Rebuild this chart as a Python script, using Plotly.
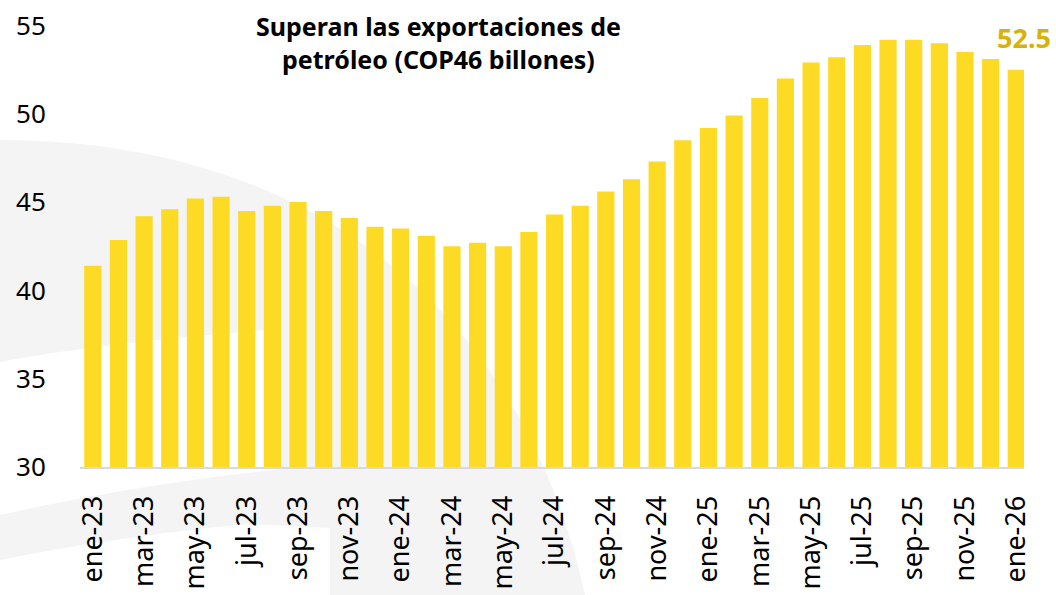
import plotly.graph_objects as go

months = ["ene", "feb", "mar", "abr", "may", "jun", "jul", "ago", "sep", "oct", "nov", "dic"]
categories = [f"{m}-{y}" for y in ["23", "24", "25"] for m in months] + ["ene-26"]
values = [41.4, 42.85, 44.2, 44.6, 45.2, 45.3, 44.5, 44.8, 45.0, 44.5, 44.1, 43.6,
          43.5, 43.1, 42.5, 42.7, 42.5, 43.3, 44.3, 44.8, 45.6, 46.3, 47.3, 48.5,
          49.2, 49.9, 50.9, 52.0, 52.9, 53.2, 53.9, 54.2, 54.2, 54.0, 53.5, 53.1,
          52.5]
tick_labels = categories[::2]
title_lines = ["Superan las exportaciones de", "petróleo (COP46 billones)"]
last_label = "52.5"
y_ticks = [30, 35, 40, 45, 50, 55]

W, H = 1056, 595
L, R, T, B = 80, 32, 10, 128
PW, PH = W - L - R, H - T - B


def px(x, y):
    return (x - L) / PW, (H - B - y) / PH


def path(cmds):
    out = []
    for c in cmds:
        if isinstance(c, str):
            out.append(c)
        else:
            xx, yy = px(*c)
            out.append(f"{xx:.4f},{yy:.4f}")
    return " ".join(out)


fig = go.Figure()
fig.add_trace(go.Bar(x=categories, y=values, marker=dict(color="#FDDA24", line=dict(width=0)),
                     hoverinfo="x+y"))

gray = "#F4F4F4"
shapes = [
    dict(type="path", xref="paper", yref="paper", layer="below", line=dict(width=0), fillcolor=gray,
         path=path(["M", (0, 140), "C", (300, 140), (520, 300), (585, 595), "L", (0, 595), "Z"])),
    dict(type="path", xref="paper", yref="paper", layer="below", line=dict(width=0), fillcolor="white",
         path=path(["M", (0, 362), "C", (90, 345), (200, 335), (265, 330), "L", (275, 470),
                    "C", (180, 480), (90, 495), (0, 515), "Z"])),
    dict(type="path", xref="paper", yref="paper", layer="below", line=dict(width=0), fillcolor="white",
         path=path(["M", (0, 560), "C", (100, 540), (200, 528), (250, 524), "L", (330, 528),
                    "L", (330, 595), "L", (0, 595), "Z"])),
]

annotations = [
    dict(xref="paper", yref="paper", x=px(438, 0)[0], y=px(0, 42)[1], text="<br>".join(title_lines),
         showarrow=False, xanchor="center", yanchor="middle",
         font=dict(family="Noto Sans", size=25, color="black", weight="bold")),
    dict(xref="paper", yref="paper", x=px(1053, 0)[0], y=px(0, 37)[1], text=f"<b>{last_label}</b>",
         showarrow=False, xanchor="right", yanchor="middle",
         font=dict(family="Noto Sans", size=27, color="#D6B30A")),
]

fig.update_layout(
    width=W, height=H,
    margin=dict(l=L, r=R, t=T, b=B, autoexpand=False),
    paper_bgcolor="white", plot_bgcolor="rgba(0,0,0,0)",
    showlegend=False, bargap=0.33,
    font=dict(family="Noto Sans", color="black"),
    shapes=shapes, annotations=annotations,
    xaxis=dict(type="category", range=[-0.5, 36.3], tickmode="array", tickvals=tick_labels,
               ticktext=tick_labels, tickangle=-90, tickfont=dict(size=27), automargin=False,
               ticks="outside", ticklen=16, tickcolor="rgba(0,0,0,0)",
               showline=True, linecolor="#D9D9D9", linewidth=2, showgrid=False, zeroline=False),
    yaxis=dict(range=[30, 30 + PH / 17.66], tickvals=y_ticks, tickfont=dict(size=26), automargin=False,
               ticks="outside", ticklen=28, tickcolor="rgba(0,0,0,0)",
               showgrid=False, zeroline=False, showline=False),
)

fig.write_html("out.html", config={"displayModeBar": False},
               post_script="document.body.style.margin='0';document.body.style.overflow='hidden';")
